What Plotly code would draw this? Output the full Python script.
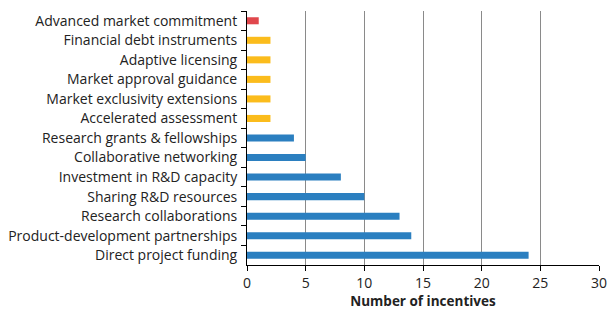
import plotly.graph_objects as go

categories = [
    "Advanced market commitment",
    "Financial debt instruments",
    "Adaptive licensing",
    "Market approval guidance",
    "Market exclusivity extensions",
    "Accelerated assessment",
    "Research grants & fellowships",
    "Collaborative networking",
    "Investment in R&D capacity",
    "Sharing R&D resources",
    "Research collaborations",
    "Product-development partnerships",
    "Direct project funding",
]
values = [1, 2, 2, 2, 2, 2, 4, 5, 8, 10, 13, 14, 24]
groups = ["red", "yellow", "yellow", "yellow", "yellow", "yellow",
          "blue", "blue", "blue", "blue", "blue", "blue", "blue"]
palette = {"red": "#e0474c", "yellow": "#fbbc1c", "blue": "#2b7fc0"}

fig = go.Figure(go.Bar(
    x=values, y=categories, orientation="h",
    marker=dict(color=[palette[g] for g in groups], line=dict(width=0)),
    width=0.36,
))

font = "Open Sans, Liberation Sans, sans-serif"
fig.update_layout(
    width=609, height=312,
    margin=dict(l=247, r=10, t=11, b=47),
    paper_bgcolor="white", plot_bgcolor="white",
    showlegend=False,
    font=dict(family=font, size=14, color="#222"),
)
fig.update_xaxes(
    range=[0, 30], dtick=5, showgrid=True, gridcolor="#8a8a8a", gridwidth=1,
    showline=True, linecolor="#000", linewidth=1,
    ticks="outside", ticklen=5, tickcolor="#000",
    tickfont=dict(size=14, color="#222"), ticklabeloverflow="allow",
    title=dict(text="<b>Number of incentives</b>", font=dict(size=13.5, color="#222"), standoff=2),
    zeroline=False, automargin=False,
)
fig.update_yaxes(
    categoryorder="array", categoryarray=categories,
    range=[len(categories) - 0.5, -0.5],
    showline=True, linecolor="#000", linewidth=1,
    ticks="outside", ticklen=5, tickcolor="#000", tickson="boundaries",
    tickfont=dict(size=14, color="#222"),
    ticklabelstandoff=6, automargin=False,
)

fig.write_html(
    "out.html",
    config={"displayModeBar": False},
    post_script="document.body.style.margin='0';document.body.style.overflow='hidden';",
)
